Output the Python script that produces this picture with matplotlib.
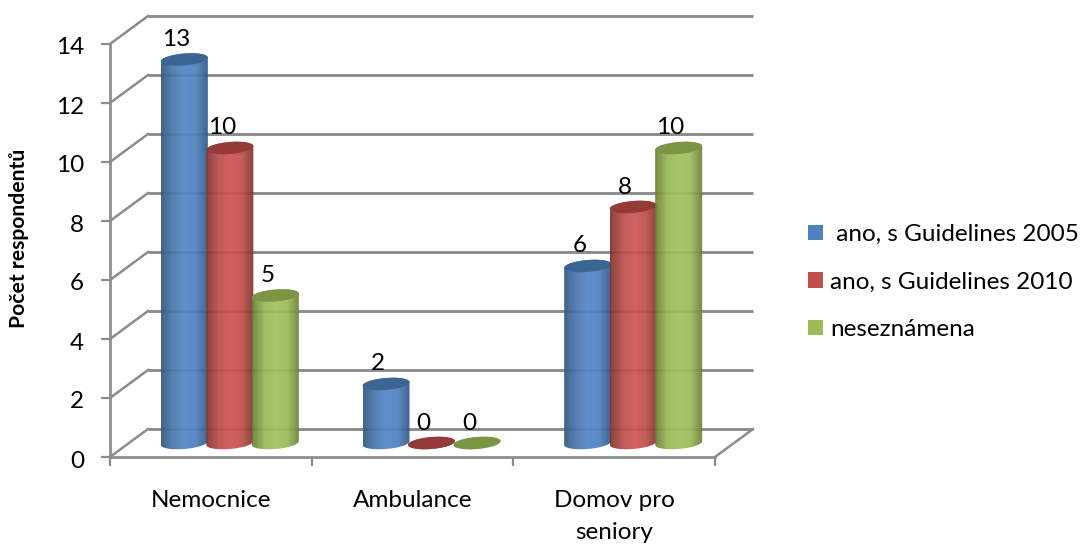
import numpy as np
import matplotlib
matplotlib.use("Agg")
import matplotlib.pyplot as plt
from matplotlib.colors import LinearSegmentedColormap
from matplotlib.patches import PathPatch, Patch
from matplotlib.path import Path
from matplotlib.transforms import ScaledTranslation

# Data
categories = ["Nemocnice", "Ambulance", "Domov pro\nseniory"]
series_names = [" ano, s Guidelines 2005", "ano, s Guidelines 2010", "neseznámena"]
guidelines_2005 = [13, 2, 6]
guidelines_2010 = [10, 0, 8]
not_familiar = [5, 0, 10]
y_ticks = [0, 2, 4, 6, 8, 10, 12, 14]

# Config
W, H = 1081, 544
LEFT, RIGHT, TOP, BOTTOM = 110, 715, 44, 457
GRID = "#8c8c8c"
FONT_SIZE = 17.5
px = 0.72  # points per pixel at dpi=100

SHADES = [
    ["#34587f", "#4a78ae", "#5388c8", "#4f82bf", "#345a85"],
    ["#7f3533", "#b94d4a", "#cf5655", "#c0504d", "#7f3533"],
    ["#6a8038", "#98b855", "#a3c35e", "#9bba58", "#6a8038"],
]
TOPS = ["#3b6593", "#943a38", "#7b9544"]
LEGEND = ["#4f81bd", "#c0504d", "#9bbb59"]

plt.rcParams["font.family"] = ["Lato", "DejaVu Sans"]
fig = plt.figure(figsize=(W / 100, H / 100), dpi=100)
ax = fig.add_axes([LEFT / W, 1 - BOTTOM / H, (RIGHT - LEFT) / W, (BOTTOM - TOP) / H])

# Pixel size of one data unit, used for the oblique depth of the chart
ux = (RIGHT - LEFT) / 3
uy = (BOTTOM - TOP) / 14
depth_x = 38 / ux
depth_y = 28 / uy

# Back wall, side wall and floor
for t in y_ticks:
    ax.plot([0, depth_x], [t, t + depth_y], color=GRID, lw=2.5 * px, clip_on=False, zorder=1)
    ax.plot([depth_x, 3 + depth_x], [t + depth_y, t + depth_y], color=GRID, lw=2.9 * px,
            clip_on=False, zorder=1, solid_capstyle="butt")
ax.plot([3, 3 + depth_x], [0, depth_y], color=GRID, lw=2.5 * px, clip_on=False, zorder=1)


def ellipse(cx, cy, start, stop):
    # tilted ellipse arc, tilt rises to the right
    t = np.linspace(start, stop, 40)
    a = 23.5
    b = 6.0
    xs = a * np.cos(t)
    ys = b * np.sin(t) + 0.08 * xs
    return cx + xs / ux, cy + ys / uy


def draw_cylinder(x0, value, i):
    base = depth_y / 2
    x_low, y_low = ellipse(x0, base, np.pi, 2 * np.pi)
    x_up, y_up = ellipse(x0, base + value, 0, np.pi)
    body = Path(np.column_stack([np.r_[x_low, x_up], np.r_[y_low, y_up]]))

    cmap = LinearSegmentedColormap.from_list("shade", SHADES[i])
    grad = np.linspace(0, 1, 64).reshape(1, -1)
    half = 23.5 / ux
    im = ax.imshow(grad, cmap=cmap, aspect="auto", alpha=0.93, zorder=2 + i * 0.1,
                   extent=[x0 - half, x0 + half, base - 1, base + value + 1])
    im.set_clip_path(body, transform=ax.transData)

    x_top, y_top = ellipse(x0, base + value, 0, 2 * np.pi)
    cap = Path(np.column_stack([x_top, y_top]))
    ax.add_patch(PathPatch(cap, facecolor=TOPS[i], edgecolor="none", zorder=2.05 + i * 0.1))

    ax.annotate(str(value), (x0, base + value), xytext=(-8 * px, 20 * px),
                textcoords="offset points", ha="center", va="center",
                fontsize=FONT_SIZE, color="black", zorder=5)


# Cylinders, series by series
series = [guidelines_2005, guidelines_2010, not_familiar]
bar_step = 45.5 / ux
for i, values in enumerate(series):
    for c, v in enumerate(values):
        x0 = c + 0.5 + (i - 1) * bar_step + depth_x / 2
        draw_cylinder(x0, v, i)

# Axes
ax.set_xlim(0, 3)
ax.set_ylim(0, 14)
ax.patch.set_visible(False)
for side in ["top", "right"]:
    ax.spines[side].set_visible(False)
for side in ["left", "bottom"]:
    ax.spines[side].set_color(GRID)
    ax.spines[side].set_linewidth(2.7 * px)
    ax.spines[side].set_zorder(1.5)

ax.set_yticks(y_ticks)
ax.set_xticks([0, 1, 2, 3], labels=[])
ax.set_xticks([0.5, 1.5, 2.5], labels=categories, minor=True)
ax.tick_params(axis="both", which="major", color=GRID, width=2.2 * px, length=9 * px)
ax.tick_params(axis="y", labelsize=FONT_SIZE, pad=17 * px)
ax.tick_params(axis="x", which="minor", length=0, labelsize=FONT_SIZE, pad=33 * px)
for label in ax.get_xticklabels(minor=True):
    label.set_linespacing(1.66)

# Value labels sit a little below their ticks
shift = ScaledTranslation(0, -2 / 100, fig.dpi_scale_trans)
for label in ax.get_yticklabels():
    label.set_transform(label.get_transform() + shift)

fig.text(19 / W, 1 - 238 / H, "Počet respondentů", rotation=90, fontsize=15.2,
         fontweight="bold", ha="center", va="center")

# Legend
handles = [Patch(facecolor=c, edgecolor="none") for c in LEGEND]
fig.legend(handles, series_names, loc="upper left", bbox_to_anchor=(808 / W, 1 - 224 / H),
           frameon=False, fontsize=FONT_SIZE, handlelength=0.62, handleheight=0.62,
           handletextpad=0.29, labelspacing=1.09, borderpad=0, borderaxespad=0)

fig.savefig("out.png", dpi=100)
